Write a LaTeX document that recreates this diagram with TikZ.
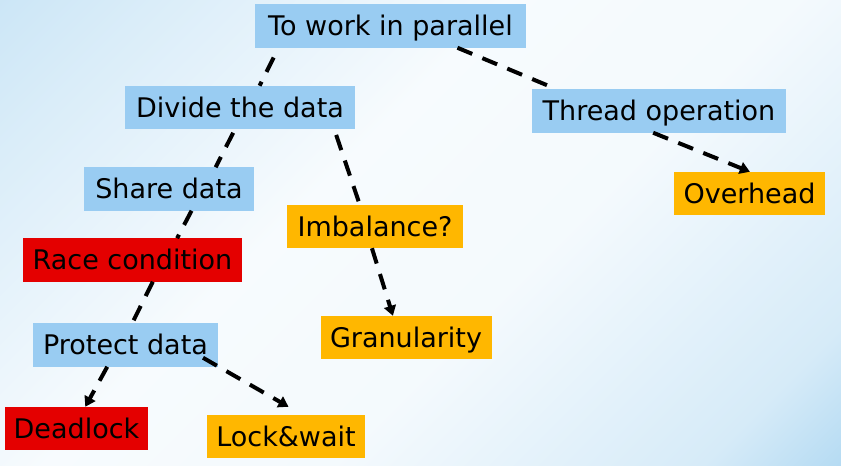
\documentclass[tikz,border=0pt]{standalone}
\usepackage{fontspec}
\setmainfont{DejaVu Sans}
\usetikzlibrary{arrows.meta}

\definecolor{boxblue}{RGB}{153,204,242}
\definecolor{boxorange}{RGB}{255,183,0}
\definecolor{boxred}{RGB}{228,0,0}
\definecolor{bgblue}{RGB}{118,188,232}
\pgfdeclarehorizontalshading{bgshade}{100bp}{color(0bp)=(bgblue!55!white); color(22bp)=(bgblue!28!white); color(42bp)=(bgblue!6!white); color(58bp)=(bgblue!8!white); color(78bp)=(bgblue!30!white); color(100bp)=(bgblue)}

\begin{document}
\begin{tikzpicture}[x=1pt,y=-1pt,
  box/.style={inner sep=0pt, outer sep=0pt, minimum height=43.5pt,
    font=\fontsize{27}{31}\selectfont, text height=23pt, text depth=4pt},
  bluebox/.style={box, fill=boxblue},
  orangebox/.style={box, fill=boxorange},
  redbox/.style={box, fill=boxred},
  link/.style={line width=4pt, dash pattern=on 16pt off 11pt},
  arrow/.style={link, -{Triangle[length=10pt,width=12pt]}}]

  % background
  \useasboundingbox (0,0) rectangle (841,466);
  \shade[shading=bgshade, shading angle=-45] (0,0) rectangle (841,466);

  % nodes
  \node[bluebox, minimum width=271pt] (work) at (390.5,26) {To work in parallel};
  \node[bluebox, minimum width=230pt] (divide) at (240,107.5) {Divide the data};
  \node[bluebox, minimum width=254pt] (thread) at (659,111) {Thread operation};
  \node[orangebox, minimum width=151pt] (overhead) at (749.5,193.5) {Overhead};
  \node[bluebox, minimum width=170pt] (share) at (169,189) {Share data};
  \node[orangebox, minimum width=176pt] (imbalance) at (375,226.5) {Imbalance?};
  \node[redbox, minimum width=219pt] (race) at (132.5,260) {Race condition};
  \node[orangebox, minimum width=171pt] (granularity) at (406,337.5) {Granularity};
  \node[bluebox, minimum width=185pt] (protect) at (125.5,345) {Protect data};
  \node[redbox, minimum width=143pt] (deadlock) at (76.5,428.5) {Deadlock};
  \node[orangebox, minimum width=158pt] (lockwait) at (286,436.5) {Lock\&wait};

  % links
  \draw[link, shorten <=11pt] (work.191) -- (divide.48);
  \draw[link] (work.342) -- (thread.168);
  \draw[link, shorten <=4pt] (divide.257) -- (share.25);
  \draw[link, shorten <=6pt] (divide.347) -- (imbalance.125);
  \draw[link] (share.316) -- (race.26);
  \draw[link] (race.313) -- (protect.73);

  % arrows
  \draw[arrow] (protect.230) -- (deadlock.68);
  \draw[arrow, shorten >=16pt] ([shift={(-15,-9)}]protect.south east) -- (lockwait.53);
  \draw[arrow] (imbalance.262) -- (granularity.121);
  \draw[arrow] (thread.255) -- (overhead.89);

\end{tikzpicture}
\end{document}
